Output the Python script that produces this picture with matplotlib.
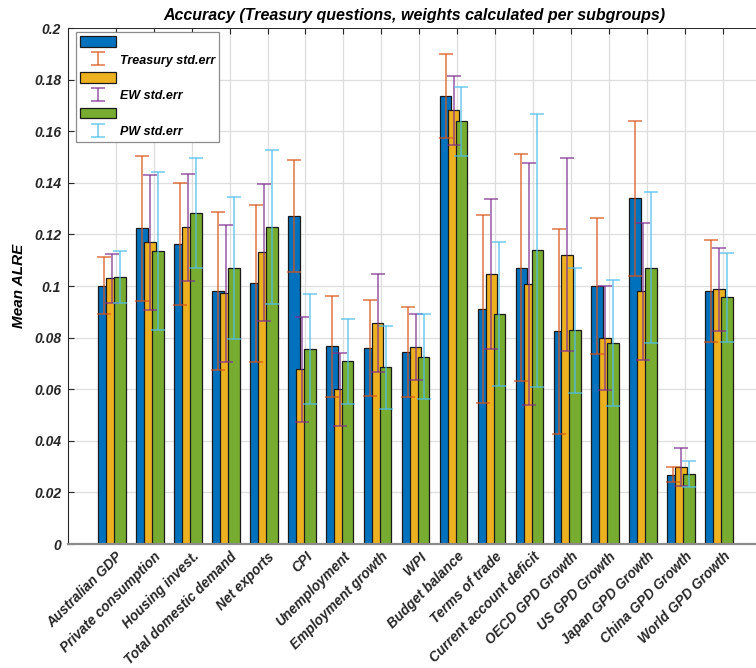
import numpy as np
import matplotlib
matplotlib.use('Agg')
import matplotlib.pyplot as plt
from matplotlib.ticker import FuncFormatter

plt.rcParams['font.family'] = ['Liberation Sans', 'DejaVu Sans']

categories = ['Australian GDP', 'Private consumption', 'Housing invest.',
              'Total domestic demand', 'Net exports', 'CPI', 'Unemployment',
              'Employment growth', 'WPI', 'Budget balance', 'Terms of trade',
              'Current account deficit', 'OECD GPD Growth', 'US GPD Growth',
              'Japan GPD Growth', 'China GPD Growth', 'World GPD Growth']

# mean ALRE per question
treasury = [0.1001, 0.1223, 0.1163, 0.0981, 0.1010, 0.1273, 0.0766, 0.0758, 0.0744,
            0.1738, 0.0910, 0.1071, 0.0824, 0.1000, 0.1340, 0.0269, 0.0981]
ew = [0.1030, 0.1169, 0.1227, 0.0972, 0.1130, 0.0677, 0.0599, 0.0855, 0.0765,
      0.1681, 0.1048, 0.1008, 0.1121, 0.0797, 0.0979, 0.0300, 0.0987]
pw = [0.1034, 0.1134, 0.1283, 0.1071, 0.1230, 0.0755, 0.0708, 0.0685, 0.0726,
      0.1638, 0.0891, 0.1138, 0.0828, 0.0778, 0.1071, 0.0271, 0.0956]

# standard errors
treasury_se = [0.0110, 0.0280, 0.0235, 0.0307, 0.0304, 0.0217, 0.0197, 0.0186, 0.0176,
               0.0163, 0.0365, 0.0440, 0.0397, 0.0262, 0.0300, 0.0028, 0.0198]
ew_se = [0.0095, 0.0262, 0.0209, 0.0266, 0.0264, 0.0203, 0.0143, 0.0190, 0.0128,
         0.0133, 0.0291, 0.0470, 0.0374, 0.0202, 0.0266, 0.0074, 0.0161]
pw_se = [0.0100, 0.0306, 0.0214, 0.0275, 0.0299, 0.0214, 0.0165, 0.0160, 0.0165,
         0.0134, 0.0278, 0.0530, 0.0242, 0.0244, 0.0293, 0.0052, 0.0173]

bar_colors = ['#0072BD', '#EDB120', '#77AC30']
err_colors = ['#D95319', '#7E2F8E', '#4DBEEE']
err_labels = ['Treasury std.err', 'EW std.err', 'PW std.err']

x = np.arange(1, len(categories) + 1)
width = 0.31
offsets = [-0.31, -0.10, 0.11]

fig = plt.figure(figsize=(7.56, 6.68), dpi=100)
ax = fig.add_axes([68 / 756, 124 / 668, 692 / 756, 516 / 668])

bars = []
for vals, off, col in zip([treasury, ew, pw], offsets, bar_colors):
    b = ax.bar(x + off, vals, width=width, color=col, edgecolor='#1a1a1a',
               linewidth=0.9, zorder=2)
    bars.append(b)

errs = []
for vals, se, off, col in zip([treasury, ew, pw], [treasury_se, ew_se, pw_se],
                              offsets, err_colors):
    e = ax.errorbar(x + off, vals, yerr=se, fmt='none', ecolor=col,
                    elinewidth=1.1, capsize=5, capthick=1.1, alpha=0.8, zorder=3)
    errs.append(e)

ax.set_xlim(-0.257, 17.975)
ax.set_ylim(0, 0.2)
ax.set_yticks(np.arange(0, 0.201, 0.02))
ax.yaxis.set_major_formatter(FuncFormatter(lambda v, p: '%g' % round(v, 2)))
ax.set_xticks(x)
ax.set_xticklabels(categories, rotation=45, ha='right', rotation_mode='anchor',
                   fontsize=9.8, fontweight='bold', fontstyle='italic', color='#262626')
for lab in ax.get_yticklabels():
    lab.set_fontsize(10)
    lab.set_fontweight('bold')
    lab.set_fontstyle('italic')
    lab.set_color('#262626')

ax.tick_params(axis='both', direction='in', length=4, width=0.8, color='#262626')
ax.tick_params(axis='x', top=True, pad=4)
ax.tick_params(axis='y', pad=5)

ax.grid(True, color='#dedede', linewidth=0.9)
ax.set_axisbelow(True)
ax.spines['right'].set_visible(False)
ax.spines['top'].set_color('#262626')
ax.spines['top'].set_linewidth(0.7)
ax.spines['left'].set_color('#262626')
ax.spines['left'].set_linewidth(0.8)
ax.spines['bottom'].set_color('#8c8c8c')
ax.spines['bottom'].set_linewidth(1.6)

ax.set_title('Accuracy (Treasury questions, weights calculated per subgroups)',
             fontsize=11.5, fontweight='bold', fontstyle='italic', pad=6)
ax.set_ylabel('Mean ALRE', fontsize=11, fontweight='bold', fontstyle='italic',
              labelpad=6)

handles = [bars[0], errs[0], bars[1], errs[1], bars[2], errs[2]]
labels = ['', err_labels[0], '', err_labels[1], '', err_labels[2]]
leg = ax.legend(handles, labels, loc='upper left', bbox_to_anchor=(0.0116, 0.992),
                borderaxespad=0,
                prop={'size': 9, 'weight': 'bold', 'style': 'italic'},
                handlelength=2.9, handleheight=0.95, labelspacing=0.42,
                handletextpad=0.3, borderpad=0.3, fancybox=False, framealpha=1,
                edgecolor='#8c8c8c')
leg.get_frame().set_linewidth(0.9)

fig.savefig('out.png', dpi=100)
